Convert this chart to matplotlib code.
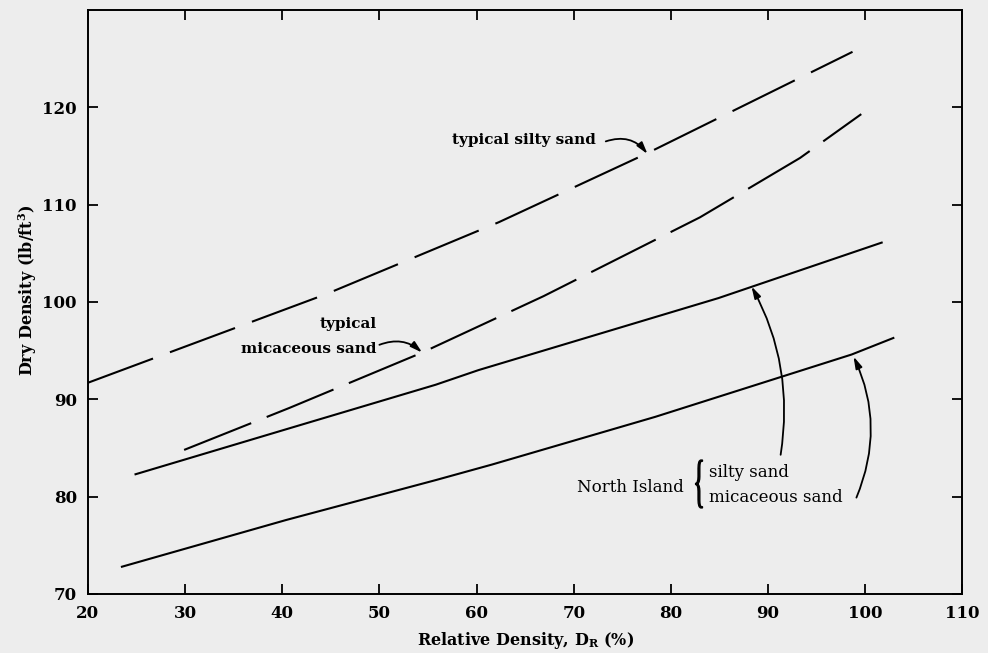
import matplotlib.pyplot as plt
from matplotlib.textpath import TextPath
from matplotlib.patches import PathPatch
from matplotlib.font_manager import FontProperties
from matplotlib.transforms import Affine2D, ScaledTranslation

# curves: relative density (%) vs dry density (lb/ft3)
silty_typ_x = [20.0, 44.5, 62.3, 77.4, 98.7]
silty_typ_y = [91.7, 100.8, 108.2, 115.2, 125.7]

mica_typ_x = [29.9, 40.7, 54.4, 66.9, 83.0, 93.3, 99.6]
mica_typ_y = [84.8, 89.1, 94.8, 100.6, 108.7, 114.8, 119.3]

silty_ni_x = [24.9, 41.0, 55.8, 60.2, 84.9, 101.7]
silty_ni_y = [82.3, 87.1, 91.5, 93.0, 100.4, 106.1]

mica_ni_x = [23.5, 40.4, 55.8, 61.6, 78.4, 98.6, 102.9]
mica_ni_y = [72.8, 77.6, 81.7, 83.3, 88.2, 94.6, 96.3]

xticks = [20, 30, 40, 50, 60, 70, 80, 90, 100, 110]
yticks = [70, 80, 90, 100, 110, 120]

bg = '#ededed'
plt.rcParams['font.family'] = 'DejaVu Serif'
plt.rcParams['lines.scale_dashes'] = False
plt.rcParams['mathtext.fontset'] = 'dejavuserif'

fig = plt.figure(figsize=(9.88, 6.53), dpi=100, facecolor=bg)
ax = fig.add_axes([0.089, 0.0904, 0.885, 0.8943])
ax.set_facecolor(bg)

lw = 1.5
ax.plot(silty_typ_x, silty_typ_y, color='black', lw=lw, linestyle=(0, (50, 13)))
ax.plot(mica_typ_x, mica_typ_y, color='black', lw=lw, linestyle=(0, (52, 12)))
ax.plot(silty_ni_x, silty_ni_y, color='black', lw=lw)
ax.plot(mica_ni_x, mica_ni_y, color='black', lw=lw)

ax.set_xlim(20, 110)
ax.set_ylim(70, 130)
ax.set_xticks(xticks)
ax.set_yticks(yticks)
ax.tick_params(direction='in', length=7, width=1.3, top=True, right=True,
               labelsize=12, pad=8)
for lab in ax.get_xticklabels() + ax.get_yticklabels():
    lab.set_fontweight('bold')
for sp in ax.spines.values():
    sp.set_linewidth(1.4)

ax.set_xlabel(r'Relative Density, D$_\mathbf{R}$ (%)', fontsize=11.5,
              fontweight='bold', labelpad=6)
ax.set_ylabel(r'Dry Density (lb/ft$^\mathbf{3}$)', fontsize=11.5,
              fontweight='bold')
ax.yaxis.set_label_coords(-0.056, 0.52)

arrow = dict(arrowstyle='-|>,head_length=0.7,head_width=0.2', color='black', lw=1.3)

# typical curves
ax.text(72.3, 116.2, 'typical silty sand', fontsize=11, fontweight='bold',
        ha='right', va='baseline')
ax.annotate('', xy=(77.6, 115.2), xytext=(73.3, 116.5),
            arrowprops=dict(connectionstyle='arc3,rad=-0.35', shrinkA=0, shrinkB=0, **arrow))

ax.text(49.7, 97.3, 'typical', fontsize=11, fontweight='bold', ha='right', va='baseline')
ax.text(49.7, 94.8, 'micaceous sand', fontsize=11, fontweight='bold',
        ha='right', va='baseline')
ax.annotate('', xy=(54.4, 94.8), xytext=(50.0, 95.6),
            arrowprops=dict(connectionstyle='arc3,rad=-0.3', shrinkA=0, shrinkB=0, **arrow))

# North Island group
ax.text(81.3, 80.5, 'North Island', fontsize=12, ha='right', va='baseline')
ax.text(83.9, 82.0, 'silty sand', fontsize=12, ha='left', va='baseline')
ax.text(83.9, 79.5, 'micaceous sand', fontsize=12, ha='left', va='baseline')

# thin tall brace: glyph squeezed to ~7 x 48 px
tp = TextPath((0, 0), '{', size=1, prop=FontProperties(family='Liberation Serif'))
bb = tp.get_extents()
squeeze = (Affine2D().translate(-(bb.x0 + bb.x1) / 2, -(bb.y0 + bb.y1) / 2)
           .scale(0.07 / bb.width, 0.48 / bb.height))
brace_tf = squeeze + fig.dpi_scale_trans + ScaledTranslation(82.9, 81.3, ax.transData)
ax.add_patch(PathPatch(tp, transform=brace_tf, facecolor='black', edgecolor='black', lw=0.9))

ax.annotate('', xy=(88.3, 101.6), xytext=(91.3, 84.3),
            arrowprops=dict(connectionstyle='arc3,rad=0.17', shrinkA=0, shrinkB=0, **arrow))
ax.annotate('', xy=(98.8, 94.4), xytext=(99.1, 79.9),
            arrowprops=dict(connectionstyle='arc3,rad=0.22', shrinkA=0, shrinkB=0, **arrow))

fig.savefig('out.png', dpi=100, facecolor=bg)
